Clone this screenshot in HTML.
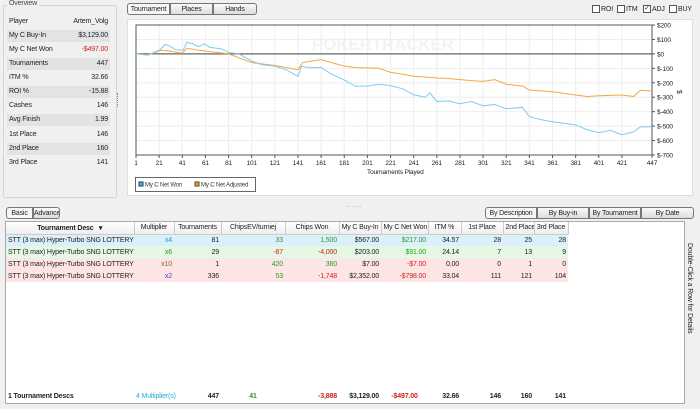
<!DOCTYPE html>
<html><head><meta charset="utf-8"><style>
*{box-sizing:border-box;margin:0;padding:0}
body{width:700px;height:409px;background:#f0f0f0;font-family:"Liberation Sans",sans-serif;font-size:7px;color:#222;position:relative;overflow:hidden;letter-spacing:-0.15px}
.abs{position:absolute}
.ov{left:3px;top:5px;width:114px;height:193px;border:1px solid #d5d5d5;border-radius:2px}
.ovt{left:7px;top:0px;background:#f0f0f0;padding:0 2px;font-size:7px;color:#444}
.row{position:absolute;left:7px;width:103px;height:12px;line-height:12px;padding:0 2px;display:flex;justify-content:space-between}
.row.g{background:#e3e3e3}
.btn{position:absolute;height:12px;line-height:11px;text-align:center;border:1px solid #777;background:linear-gradient(#fafafa,#dcdcdc);font-size:7px;white-space:nowrap;overflow:hidden}
.btn.on{background:#f6f6f6}
.cb{position:absolute;top:5px;font-size:7px;display:flex;align-items:center;gap:1px;white-space:nowrap}
.cb i{display:inline-block;width:8px;height:8px;border:1px solid #555;background:#fff;font-style:normal;font-size:7px;line-height:6px;text-align:center}
table{border-collapse:collapse;font-size:7px;table-layout:fixed}
td,th{height:12px;padding:0 2px;white-space:nowrap;overflow:hidden}
th{font-weight:normal;border-right:1px solid #ccc;text-align:center;background:linear-gradient(#fff,#eee);border-bottom:1px solid #ccc}
td{text-align:right}
.gr{color:#2a9a2a}.rd{color:#d02020}
</style></head><body>
<div class="abs ov"></div>
<div class="abs ovt">Overview</div>
<div class="row" style="top:16px"><span>Player</span><span>Artem_Volg</span></div>
<div class="row g" style="top:30px"><span>My C Buy-In</span><span>$3,129.00</span></div>
<div class="row" style="top:44px"><span>My C Net Won</span><span class="rd">-$497.00</span></div>
<div class="row g" style="top:58px"><span>Tournaments</span><span>447</span></div>
<div class="row" style="top:72px"><span>ITM %</span><span>32.66</span></div>
<div class="row g" style="top:86px"><span>ROI %</span><span>-15.88</span></div>
<div class="row" style="top:100px"><span>Cashes</span><span>146</span></div>
<div class="row g" style="top:114px"><span>Avg Finish</span><span>1.99</span></div>
<div class="row" style="top:129px"><span>1st Place</span><span>146</span></div>
<div class="row g" style="top:143px"><span>2nd Place</span><span>160</span></div>
<div class="row" style="top:157px"><span>3rd Place</span><span>141</span></div>
<div class="abs" style="left:117px;top:93px;width:1px;height:14px;border-left:1px dotted #888"></div>

<div class="btn on" style="left:127px;top:3px;width:43px;border-radius:3px 0 0 3px">Tournament</div>
<div class="btn" style="left:170px;top:3px;width:43px">Places</div>
<div class="btn" style="left:213px;top:3px;width:44px;border-radius:0 3px 3px 0">Hands</div>
<div class="cb" style="left:592px"><i></i>ROI</div>
<div class="cb" style="left:617px"><i></i>ITM</div>
<div class="cb" style="left:643px"><i>✓</i>ADJ</div>
<div class="cb" style="left:669px"><i></i>BUY</div>

<div class="abs" style="left:127px;top:19px;width:566px;height:177px;background:#fff;border:1px solid #ddd"></div>
<svg class="abs" style="left:0;top:0" width="700" height="200" id="chart"></svg>

<div class="abs" style="left:346px;top:203px;font-size:6px;color:#888;letter-spacing:1px">......</div>
<div class="btn on" style="left:6px;top:207px;width:27px;border-radius:3px 0 0 3px">Basic</div>
<div class="btn" style="left:33px;top:207px;width:27px;border-radius:0 3px 3px 0">Advanced</div>
<div class="btn on" style="left:485px;top:207px;width:52px;border-radius:3px 0 0 3px">By Description</div>
<div class="btn" style="left:537px;top:207px;width:52px">By Buy-in</div>
<div class="btn" style="left:589px;top:207px;width:52px">By Tournament</div>
<div class="btn" style="left:641px;top:207px;width:53px;border-radius:0 3px 3px 0">By Date</div>

<div class="abs" style="left:5px;top:221px;width:680px;height:183px;background:#fff;border:1px solid #aaa">
<table style="width:562px">
<colgroup><col style="width:128px"><col style="width:40px"><col style="width:47px"><col style="width:64px"><col style="width:54px"><col style="width:42px"><col style="width:47px"><col style="width:33px"><col style="width:42px"><col style="width:31px"><col style="width:34px"></colgroup>
<tr><th style="font-weight:bold">Tournament Desc &nbsp; ▾</th><th>Multiplier</th><th>Tournaments</th><th>ChipsEV/turniej</th><th>Chips Won</th><th>My C Buy-In</th><th>My C Net Won</th><th>ITM %</th><th>1st Place</th><th>2nd Place</th><th>3rd Place</th></tr>
<tr style="background:#dcf0fb"><td style="text-align:left">STT (3 max) Hyper-Turbo SNG LOTTERY</td><td style="color:#20a0c0">x4</td><td>81</td><td class="gr">33</td><td class="gr">1,500</td><td>$567.00</td><td class="gr">$217.00</td><td>34.57</td><td>28</td><td>25</td><td>28</td></tr>
<tr style="background:#e4f8e4"><td style="text-align:left">STT (3 max) Hyper-Turbo SNG LOTTERY</td><td class="gr">x6</td><td>29</td><td class="rd">-87</td><td class="rd">-4,000</td><td>$203.00</td><td class="gr">$91.00</td><td>24.14</td><td>7</td><td>13</td><td>9</td></tr>
<tr style="background:#fde5e5"><td style="text-align:left">STT (3 max) Hyper-Turbo SNG LOTTERY</td><td style="color:#807020">x10</td><td>1</td><td class="gr">420</td><td class="gr">360</td><td>$7.00</td><td class="rd">-$7.00</td><td>0.00</td><td>0</td><td>1</td><td>0</td></tr>
<tr style="background:#fde5e5"><td style="text-align:left">STT (3 max) Hyper-Turbo SNG LOTTERY</td><td style="color:#4040d0">x2</td><td>336</td><td class="gr">53</td><td class="rd">-1,748</td><td>$2,352.00</td><td class="rd">-$798.00</td><td>33.04</td><td>111</td><td>121</td><td>104</td></tr>
</table>
<table style="width:562px;position:absolute;left:0;top:168px;font-weight:bold;background:#fff">
<colgroup><col style="width:128px"><col style="width:40px"><col style="width:47px"><col style="width:64px"><col style="width:54px"><col style="width:42px"><col style="width:47px"><col style="width:33px"><col style="width:42px"><col style="width:31px"><col style="width:34px"></colgroup>
<tr><td style="text-align:left">1 Tournament Descs</td><td style="color:#20b0d0;font-weight:normal;text-align:left;overflow:visible">4 Multiplier(s)</td><td>447</td><td class="gr" style="text-align:center">41</td><td class="rd">-3,888</td><td>$3,129.00</td><td class="rd" style="text-align:center">-$497.00</td><td>32.66</td><td>146</td><td>160</td><td>141</td></tr></table>
</div>
<div class="abs" style="top:243px;transform:rotate(90deg);transform-origin:0 0;white-space:nowrap;font-size:7px;left:693px">Double-Click a Row for Details</div>

<script>
const xTicks=[1,21,41,61,81,101,121,141,161,181,201,221,241,261,281,301,321,341,361,381,401,421,447];
const yTicks=[200,100,0,-100,-200,-300,-400,-500,-600,-700];
const netWonX=[1,8,12,16,21,26,30,35,40,42,45,50,55,60,65,70,75,81,90,101,110,121,131,141,144,150,161,170,181,191,201,211,221,231,241,251,255,261,271,281,291,301,311,321,335,341,351,361,371,381,391,401,411,421,431,437,447];
const netWonY=[0,-5,-8,5,20,65,55,30,25,30,80,70,50,70,45,40,35,10,0,-50,-75,-85,-110,-155,-85,-95,-95,-140,-180,-225,-222,-210,-220,-240,-283,-300,-270,-330,-325,-345,-330,-360,-350,-380,-370,-435,-455,-470,-480,-492,-525,-545,-530,-560,-540,-505,-505];
const adjX=[1,10,15,21,30,40,42,45,55,61,81,101,121,141,145,161,181,191,201,211,221,231,241,251,261,271,281,291,301,311,321,335,341,361,381,391,401,421,431,437,447];
const adjY=[0,-8,5,25,20,5,15,40,25,20,0,-60,-80,-110,-60,-40,-85,-95,-97,-100,-127,-140,-155,-160,-167,-170,-178,-185,-190,-178,-210,-222,-250,-262,-285,-295,-290,-285,-295,-252,-257];
const L=136,R=652,T=25,B=155;
const xs=t=>L+(t-1)*(R-L)/446;
const ys=v=>T+(200-v)*(B-T)/900;
const svg=document.getElementById('chart');
const NS='http://www.w3.org/2000/svg';
function mk(tag,at,txt){const e=document.createElementNS(NS,tag);for(const k in at)e.setAttribute(k,at[k]);if(txt!=null)e.textContent=txt;svg.appendChild(e);return e;}
const wm=mk('text',{x:312,y:50,'font-size':17,'font-weight':'bold',fill:'#f3f3f3','font-family':'Liberation Sans'},'POKERTRACKER');

for(const t of xTicks){const g=mk('line',{x1:xs(t),x2:xs(t),y1:T,y2:B,stroke:'#eee'});
const tk=mk('line',{x1:xs(t),x2:xs(t),y1:B,y2:B+3,stroke:'#555'});
const lb=mk('text',{x:xs(t),y:B+10,'font-size':6.5,'text-anchor':'middle',fill:'#222'},t);}
for(const v of yTicks){const g=mk('line',{x1:L,x2:R,y1:ys(v),y2:ys(v),stroke:v===0?'#666':'#eee','stroke-width':v===0?1.3:1});
const tk=mk('line',{x1:R,x2:R+3,y1:ys(v),y2:ys(v),stroke:'#555'});
const lb=mk('text',{x:R+5,y:ys(v)+2.5,'font-size':6.5,fill:'#222'},'$'+v);}
const fr=mk('rect',{x:L,y:T,width:R-L,height:B-T,fill:'none',stroke:'#555'});
function line(X,Y,c,n){const p=mk('polyline',{points:X.map((t,i)=>xs(t)+','+ys(Y[i])).join(' '),fill:'none',stroke:c,'stroke-width':1});}
line(adjX,adjY,'#f6a640','net-adjusted-line');
line(netWonX,netWonY,'#7cccf4','net-won-line');
const xt=mk('text',{x:367,y:174,'font-size':6.5,fill:'#222'},'Tournaments Played');
const yt=mk('text',{x:677,y:90,'font-size':7,fill:'#222',transform:'rotate(90 677 90)'},'$');
const lg=mk('rect',{x:135.5,y:177.5,width:120,height:14,fill:'#fff',stroke:'#666'});
const s1=mk('rect',{x:139,y:182,width:4,height:4,fill:'#40b0f0',stroke:'#246'});
const l1=mk('text',{x:145,y:186.5,'font-size':6,fill:'#333'},'My C Net Won');
const s2=mk('rect',{x:195,y:182,width:4,height:4,fill:'#f6a020',stroke:'#642'});
const l2=mk('text',{x:201,y:186.5,'font-size':6,fill:'#333'},'My C Net Adjusted');
</script>
</body></html>
